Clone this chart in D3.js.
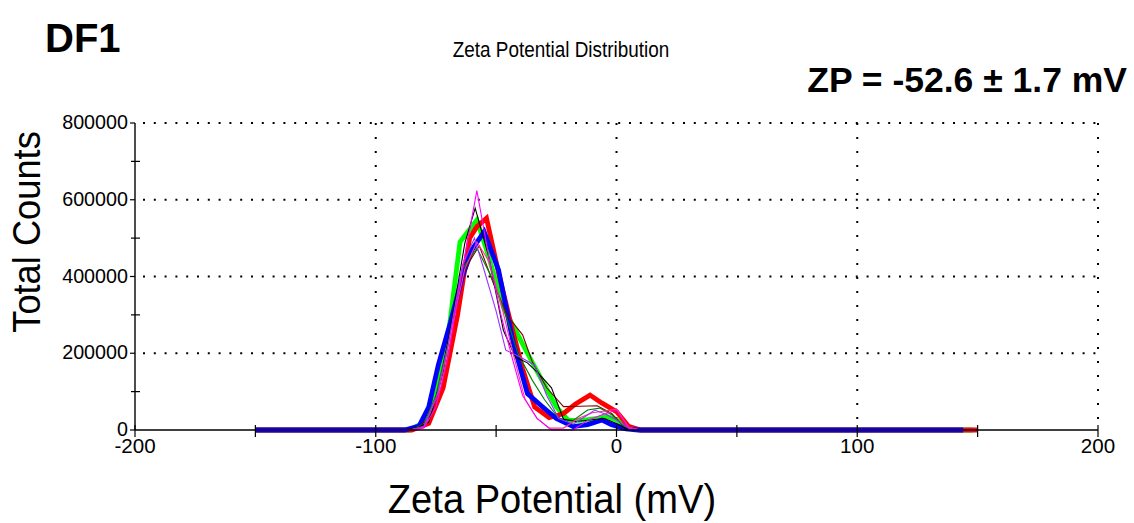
<!DOCTYPE html>
<html><head><meta charset="utf-8">
<script src="https://cdn.jsdelivr.net/npm/d3@7"></script>
<style>
html,body{margin:0;padding:0;background:#fff;}
svg{display:block;}
text{fill:#000;}
</style></head>
<body><svg id="c" width="1134" height="523"></svg>
<script>
// ---- data ----
const xTicksMajor = [-200, -100, 0, 100, 200];
const xTicksMinor = [-150, -50, 50, 150];
const yTicksMajor = [0, 200000, 400000, 600000, 800000];
const yTicksMinor = [100000, 300000, 500000, 700000];
const xGrid = [-100, 0, 100, 200];
const yGrid = [200000, 400000, 600000, 800000];

const seriesGreen = [[-150,0],[-86,0],[-80,20000],[-75,90000],[-70,240000],[-65,490000],[-58,547000],[-53,450000],[-47,320000],[-42,260000],[-37,200000],[-31,130000],[-25,60000],[-20,25000],[-14,25000],[-8,30000],[-4,35000],[0,26000],[5,5000],[10,0],[148,0]];
const seriesRed = [[-150,0],[-85,0],[-78,17000],[-72,110000],[-66,300000],[-61,500000],[-58,530000],[-54,552000],[-49,410000],[-44,280000],[-39,160000],[-34,60000],[-28,32000],[-22,43000],[-17,68000],[-11,91000],[-6,70000],[0,48000],[5,10000],[10,0],[150,0]];
const seriesBlue = [[-150,0],[-88,0],[-82,10000],[-78,60000],[-74,170000],[-69,280000],[-64,400000],[-60,470000],[-55,517000],[-49,417000],[-43,230000],[-37,95000],[-31,62000],[-25,30000],[-18,9000],[-12,14000],[-6,26000],[-2,14000],[4,3000],[9,0],[144,0]];
const seriesBlack = [[-150,0],[-88,0],[-82,8000],[-78,20000],[-73,130000],[-68,300000],[-63,487000],[-58.7,578000],[-53,450000],[-47,260000],[-42,190000],[-37,175000],[-32,145000],[-27,110000],[-22,28000],[-17,22000],[-11,26000],[-5,30000],[0,17000],[5,0],[150,0]];
const seriesMagenta = [[-150,0],[-86,0],[-80,5000],[-75,60000],[-70,190000],[-64,420000],[-58,624000],[-53,450000],[-48,300000],[-43,180000],[-39,90000],[-33,30000],[-27,0],[-18,0],[-12,25000],[-6,40000],[0,52000],[5,5000],[10,0],[150,0]];
const seriesPink = [[-150,0],[-86,0],[-80,8000],[-74,100000],[-69,250000],[-63,420000],[-58,490000],[-53,440000],[-48,330000],[-43,200000],[-38,80000],[-33,30000],[-28,5000],[-22,5000],[-16,30000],[-10,45000],[-4,50000],[0,55000],[5,8000],[10,0],[150,0]];
const seriesPurple = [[-150,0],[-86,0],[-80,10000],[-75,80000],[-70,220000],[-64,430000],[-59,500000],[-55,417000],[-50,310000],[-46,208000],[-40,190000],[-34,169000],[-29,90000],[-24,30000],[-18,15000],[-13,35000],[-9,52000],[-4,40000],[0,26000],[5,5000],[10,0],[150,0]];
const seriesDarkGreen = [[-150,0],[-86,0],[-80,15000],[-75,90000],[-70,230000],[-64,420000],[-58,474000],[-52,400000],[-46,300000],[-41,200000],[-35,130000],[-30,80000],[-24,30000],[-18,25000],[-12,52000],[-7,57000],[-2,40000],[3,10000],[8,0],[150,0]];
const seriesMaroon = [[-150,0],[-88,0],[-82,8000],[-77,40000],[-72,150000],[-66,370000],[-61,440000],[-57,480000],[-51,380000],[-45,295000],[-39,248000],[-35,178000],[-29,110000],[-22,61000],[-15,62000],[-8,63000],[-2,43000],[3,10000],[8,0],[150,0]];

const thickSeries = [
  {data: seriesGreen, color: "#00ff00"},
  {data: seriesRed, color: "#ff0000"},
  {data: seriesBlue, color: "#0000ff"}
];
const thinSeries = [
  {data: seriesMaroon, color: "#800000"},
  {data: seriesDarkGreen, color: "#008000"},
  {data: seriesBlack, color: "#000000"},
  {data: seriesPink, color: "#ff3399"},
  {data: seriesPurple, color: "#9933ff"},
  {data: seriesMagenta, color: "#ff00ff"}
];

// ---- drawing ----
const svg = d3.select("#c");
const x = d3.scaleLinear().domain([-200, 200]).range([135, 1098]);
const y = d3.scaleLinear().domain([0, 800000]).range([430, 123]);
const font = "'Liberation Sans',Arial,sans-serif";

// grid
svg.append("g").selectAll("line").data(yGrid).join("line")
  .attr("x1", x(-200) + 8).attr("x2", x(200))
  .attr("y1", d => y(d)).attr("y2", d => y(d))
  .attr("stroke", "#000").attr("stroke-width", 2)
  .attr("stroke-dasharray", "2,8.8");
svg.append("g").selectAll("line").data(xGrid).join("line")
  .attr("x1", d => x(d)).attr("x2", d => x(d))
  .attr("y1", y(800000)).attr("y2", y(0) - 6)
  .attr("stroke", "#000").attr("stroke-width", 2)
  .attr("stroke-dasharray", "2,12");

// lines
const line = d3.line().x(d => x(d[0])).y(d => y(d[1]));
svg.append("g").selectAll("path").data(thickSeries).join("path")
  .attr("d", d => line(d.data)).attr("fill", "none")
  .attr("stroke", d => d.color).attr("stroke-width", 4.8)
  .attr("stroke-linejoin", "miter");
svg.append("g").selectAll("path").data(thinSeries).join("path")
  .attr("d", d => line(d.data)).attr("fill", "none")
  .attr("stroke", d => d.color).attr("stroke-width", 1.1);

// axes
const axisG = svg.append("g");
axisG.append("line").attr("x1", x(-200)).attr("x2", x(200)).attr("y1", y(0)).attr("y2", y(0))
  .attr("stroke", "#000").attr("stroke-width", 1.4);
axisG.append("line").attr("x1", x(-200)).attr("x2", x(-200)).attr("y1", y(0)).attr("y2", y(800000))
  .attr("stroke", "#000").attr("stroke-width", 1.4);
axisG.selectAll(".xt").data(xTicksMajor.concat(xTicksMinor)).join("line")
  .attr("x1", d => x(d)).attr("x2", d => x(d)).attr("y1", y(0) - 5).attr("y2", y(0) + 7)
  .attr("stroke", "#000").attr("stroke-width", 1.2);
axisG.selectAll(".ytM").data(yTicksMajor).join("line")
  .attr("x1", x(-200) - 5).attr("x2", x(-200))
  .attr("y1", d => y(d)).attr("y2", d => y(d))
  .attr("stroke", "#000").attr("stroke-width", 1.2);
axisG.selectAll(".ytm").data(yTicksMinor).join("line")
  .attr("x1", x(-200) - 4).attr("x2", x(-200) + 5)
  .attr("y1", d => y(d)).attr("y2", d => y(d))
  .attr("stroke", "#000").attr("stroke-width", 1.2);

axisG.selectAll(".xl").data(xTicksMajor).join("text")
  .attr("transform", d => `translate(${x(d)},453) scale(0.98,1)`)
  .attr("text-anchor", "middle").attr("font-family", font).attr("font-size", 21)
  .text(d => d);
axisG.selectAll(".yl").data(yTicksMajor).join("text")
  .attr("transform", d => `translate(128,${y(d) + 6}) scale(0.94,1)`)
  .attr("text-anchor", "end").attr("font-family", font).attr("font-size", 21)
  .text(d => d);

// titles
svg.append("text").attr("x", 45).attr("y", 52)
  .attr("font-family", font).attr("font-weight", "bold").attr("font-size", 40)
  .text("DF1");
svg.append("text").attr("transform", "translate(561,57) scale(0.86,1)").attr("text-anchor", "middle")
  .attr("font-family", font).attr("font-size", 22)
  .text("Zeta Potential Distribution");
svg.append("text").attr("x", 1127).attr("y", 92).attr("text-anchor", "end")
  .attr("font-family", font).attr("font-weight", "bold").attr("font-size", 35.5)
  .text("ZP = -52.6 ± 1.7 mV");
svg.append("text").attr("transform", "translate(552,513) scale(0.93,1)").attr("text-anchor", "middle")
  .attr("font-family", font).attr("font-size", 41)
  .text("Zeta Potential (mV)");
svg.append("text").attr("transform", "translate(40,232) rotate(-90) scale(0.93,1)").attr("text-anchor", "middle")
  .attr("font-family", font).attr("font-size", 39)
  .text("Total Counts");
</script></body></html>
